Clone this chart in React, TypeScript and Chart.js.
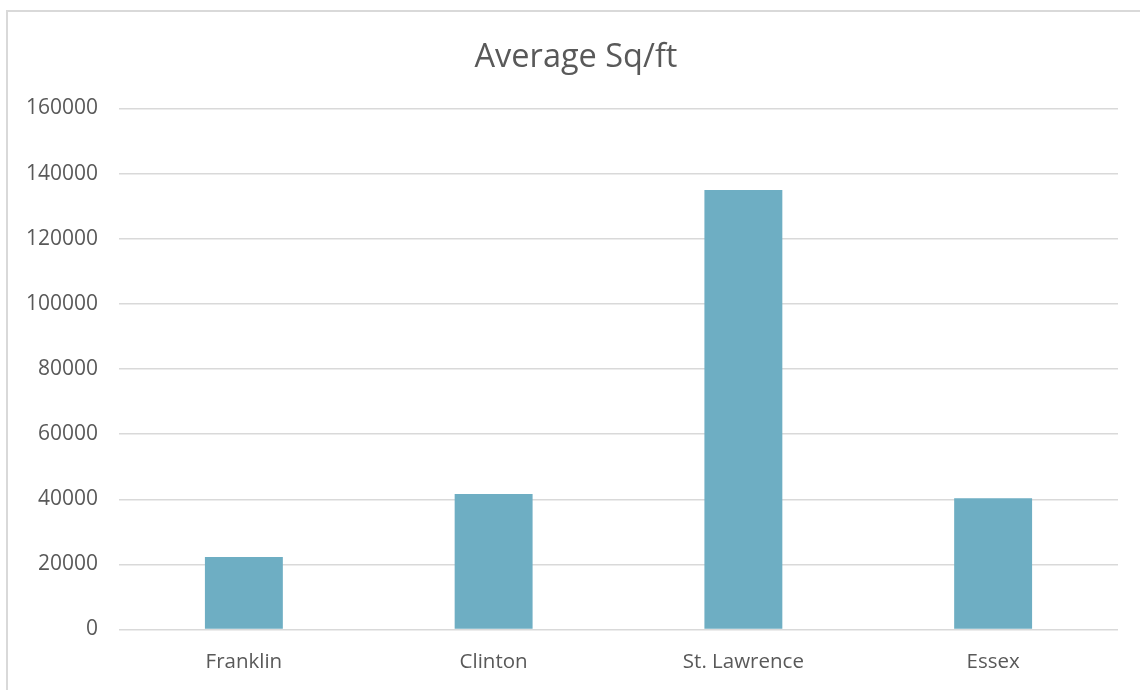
import React, { useEffect, useRef } from "react";
import { Chart, registerables } from "chart.js";

Chart.register(...registerables);

const categories = ["Franklin", "Clinton", "St. Lawrence", "Essex"];
const avgSqft = [22300, 41600, 135000, 40300];
const yTicks = [0, 20000, 40000, 60000, 80000, 100000, 120000, 140000, 160000];
const chartTitle = "Average Sq/ft";

const centerTitlePlugin = {
  id: "centerTitle",
  afterLayout(chart: any) {
    const t = chart.titleBlock;
    if (t) {
      t.left = 34;
      t.right = 1118;
    }
  },
};

export default function App() {
  const ref = useRef<HTMLCanvasElement | null>(null);

  useEffect(() => {
    if (!ref.current) return;
    const chart = new Chart(ref.current, {
      type: "bar",
      data: {
        labels: categories,
        datasets: [
          {
            label: chartTitle,
            data: avgSqft,
            backgroundColor: "#6eaec3",
            borderWidth: 0,
            barPercentage: 0.312,
            categoryPercentage: 1,
          },
        ],
      },
      plugins: [centerTitlePlugin],
      options: {
        responsive: false,
        animation: false,
        layout: { padding: { left: 0, right: 22, top: 0, bottom: 0 } },
        plugins: {
          legend: { display: false },
          tooltip: { enabled: false },
          title: {
            display: true,
            text: chartTitle,
            color: "#595959",
            font: { family: "'Open Sans'", size: 32.5, weight: "normal" },
            padding: { top: 38, bottom: 31.5 },
          },
        },
        scales: {
          x: {
            grid: { display: false, drawTicks: false },
            border: { display: false },
            ticks: {
              color: "#595959",
              font: { family: "'Open Sans'", size: 20.5 },
              padding: 20,
            },
            afterFit: (s: any) => {
              s.height = 60.5;
            },
          },
          y: {
            min: 0,
            max: 160000,
            afterBuildTicks: (s: any) => {
              s.ticks = yTicks.map((v) => ({ value: v }));
            },
            grid: { color: "#d9d9d9", lineWidth: 1.5, drawTicks: false },
            border: { display: false },
            ticks: {
              color: "#595959",
              font: { family: "'Open Sans'", size: 21 },
              padding: 21,
              callback: (v: any) => String(v),
            },
            afterFit: (s: any) => {
              s.width = 119;
            },
          },
        },
      },
    });
    return () => chart.destroy();
  }, []);

  return (
    <div
      style={{
        position: "fixed",
        left: 0,
        top: 0,
        width: 1140,
        height: 690,
        overflow: "hidden",
        background: "#fff",
      }}
    >
      <div
        style={{
          position: "absolute",
          left: 6,
          top: 10,
          width: 1160,
          height: 700,
          border: "2px solid #d9d9d9",
          boxSizing: "border-box",
        }}
      />
      <canvas
        ref={ref}
        width={1140}
        height={690}
        style={{ position: "absolute", left: 0, top: 0 }}
      />
    </div>
  );
}
